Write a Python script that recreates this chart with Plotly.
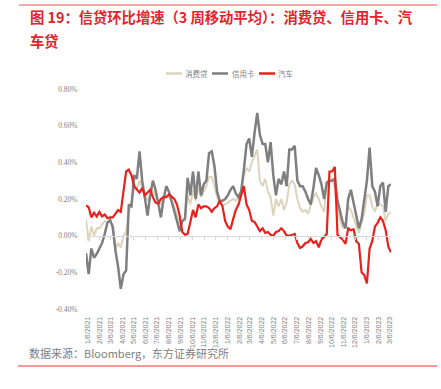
import pandas as pd
import plotly.graph_objects as go

# ---------------- data ----------------
start_date = "2021-01-01"
n_weeks = 115

consumer_loan = [  # 消费贷
    0.09, -0.03, 0.05, 0.0, 0.04, 0.04, 0.06, 0.08, 0.07, 0.09,
    0.03, -0.07, -0.04, -0.065, 0.0, 0.02, 0.13, 0.19, 0.25, 0.26,
    0.30, 0.26, 0.22, 0.19, 0.22, 0.25, 0.22, 0.19, 0.17, 0.20,
    0.22, 0.21, 0.19, 0.16, 0.11, 0.06, 0.08, 0.10, 0.22, 0.17,
    0.25, 0.19, 0.26, 0.21, 0.24, 0.27, 0.32, 0.32, 0.27, 0.21,
    0.18, 0.17, 0.17, 0.18, 0.19, 0.20, 0.19, 0.21, 0.25, 0.33,
    0.37, 0.35, 0.40, 0.44, 0.47, 0.30, 0.27, 0.31, 0.24, 0.21,
    0.11, 0.20, 0.16, 0.20, 0.14, 0.18, 0.28, 0.30, 0.28, 0.20,
    0.15, 0.13, 0.14, 0.12, 0.16, 0.21, 0.23, 0.20, 0.16, 0.13,
    0.29, 0.31, 0.31, 0.26, 0.13, 0.09, 0.04, 0.07, 0.16, 0.14,
    0.10, 0.06, 0.015, 0.07, 0.12, 0.22, 0.22, 0.16, 0.13, 0.18,
    0.17, 0.16, 0.08, 0.12, 0.125,
]
credit_card = [  # 信用卡
    -0.095, -0.21, -0.07, -0.12, -0.10, -0.07, -0.04, 0.01, 0.07, 0.085,
    0.05, -0.08, -0.17, -0.29, -0.21, -0.19, 0.17, 0.16, 0.33, 0.31,
    0.46, 0.30, 0.20, 0.11, 0.22, 0.30, 0.25, 0.17, 0.10, 0.20,
    0.27, 0.24, 0.19, 0.14, 0.08, 0.025, 0.08, 0.09, 0.315, 0.22,
    0.35, 0.20, 0.35, 0.22, 0.28, 0.30, 0.45, 0.46, 0.38, 0.24,
    0.19, 0.19, 0.20, 0.22, 0.25, 0.27, 0.23, 0.21, 0.24, 0.36,
    0.50, 0.53, 0.43, 0.56, 0.67, 0.55, 0.50, 0.50, 0.40, 0.51,
    0.33, 0.22, 0.31, 0.28, 0.35, 0.27, 0.47, 0.47, 0.49, 0.30,
    0.27, 0.27, 0.24, 0.20, 0.17, 0.26, 0.37, 0.33, 0.28, 0.20,
    0.29, 0.30, 0.30, 0.31, 0.19, 0.13, 0.07, 0.04, 0.20, 0.25,
    0.18, 0.11, 0.04, 0.09, 0.20, 0.30, 0.48, 0.27, 0.24, 0.16,
    0.27, 0.29, 0.13, 0.27, 0.28,
]
auto_loan = [  # 汽车
    0.165, 0.155, 0.10, 0.125, 0.105, 0.13, 0.105, 0.115, 0.095, 0.10,
    0.10, 0.12, 0.14, 0.13, 0.25, 0.35, 0.36, 0.33, 0.27, 0.25,
    0.235, 0.26, 0.22, 0.235, 0.25, 0.21, 0.18, 0.175, 0.20, 0.21,
    0.21, 0.225, 0.21, 0.20, 0.17, 0.11, 0.02, 0.005, 0.01, 0.08,
    0.14, 0.10, 0.17, 0.15, 0.16, 0.16, 0.15, 0.13, 0.15, 0.16,
    0.19, 0.16, 0.08, 0.05, 0.035, 0.09, 0.14, 0.17, 0.22, 0.27,
    0.17, 0.14, 0.08, 0.075, 0.05, 0.025, 0.04, 0.015, 0.02, 0.005,
    0.0, 0.02, 0.025, 0.04, 0.025, 0.0, 0.0, 0.005, 0.01, -0.04,
    -0.067, -0.058, -0.04, -0.036, -0.018, -0.04, -0.03, -0.064, -0.02, -0.007,
    0.01, 0.35, 0.35, 0.375, 0.005, -0.01, -0.022, -0.045, 0.04, 0.03,
    0.035, -0.03, -0.045, -0.20, -0.215, -0.26, -0.07, -0.03, 0.05, 0.07,
    0.10, 0.08, 0.03, -0.06, -0.09,
]
tick_labels = [
    "1/6/2021", "2/6/2021", "3/6/2021", "4/6/2021", "5/6/2021", "6/6/2021",
    "7/6/2021", "8/6/2021", "9/6/2021", "10/6/2021", "11/6/2021", "12/6/2021",
    "1/6/2022", "2/6/2022", "3/6/2022", "4/6/2022", "5/6/2022", "6/6/2022",
    "7/6/2022", "8/6/2022", "9/6/2022", "10/6/2022", "11/6/2022", "12/6/2022",
    "1/6/2023", "2/6/2023", "3/6/2023",
]
y_ticks = [-0.4, -0.2, 0.0, 0.2, 0.4, 0.6, 0.8]
y_tick_labels = ["-0.40%", "-0.20%", "0.00%", "0.20%", "0.40%", "0.60%", "0.80%"]
series_names = ["消费贷", "信用卡", "汽车"]

# ---------------- figure ----------------
dates = pd.date_range(start=start_date, periods=n_weeks, freq="7D")
tick_vals = pd.to_datetime(tick_labels, format="%m/%d/%Y")

W, H = 441, 389
L, R, T, B = 86, 50, 89, 80
PW, PH = W - L - R, H - T - B

def px(x):
    return (x - L) / PW

def py(y):
    return (H - B - y) / PH

colors = ["#ddd4bd", "#7f7f7f", "#e8211d"]
widths = [2.0, 2.5, 2.2]

fig = go.Figure()
for name, vals, c, w in zip(series_names, [consumer_loan, credit_card, auto_loan], colors, widths):
    fig.add_trace(go.Scatter(x=dates, y=vals, mode="lines", name=name,
                             line=dict(color=c, width=w), showlegend=False))

x_range = [dates[0], dates[-1]]

fig.update_layout(
    width=W, height=H,
    margin=dict(l=L, r=R, t=T, b=B, pad=0),
    paper_bgcolor="white", plot_bgcolor="white",
    showlegend=False,
    xaxis=dict(
        type="date", range=x_range, tickmode="array",
        tickvals=tick_vals, ticktext=tick_labels, tickangle=-90,
        showgrid=False, zeroline=False, showline=False,
        ticks="outside", ticklen=4, tickcolor="rgba(0,0,0,0)",
        tickfont=dict(family="Liberation Sans", size=7, color="#7f7f7f"),
    ),
    xaxis2=dict(
        type="date", range=x_range, overlaying="x", anchor="free", position=1/3,
        tickmode="array", tickvals=tick_vals, showticklabels=False,
        showgrid=False, zeroline=False, showline=True, linecolor="#d9d9d9", linewidth=1,
        ticks="outside", ticklen=3, tickcolor="#d9d9d9", tickwidth=1,
    ),
    yaxis=dict(
        range=[-0.4, 0.8], tickmode="array", tickvals=y_ticks, ticktext=y_tick_labels,
        showgrid=False, zeroline=False, showline=False,
        ticks="outside", ticklen=6, tickcolor="rgba(0,0,0,0)",
        tickfont=dict(family="Liberation Serif", size=7.5, color="#7f7f7f"),
    ),
)

# dummy trace for xaxis2 so it renders
fig.add_trace(go.Scatter(x=[dates[0]], y=[None], xaxis="x2", showlegend=False,
                         hoverinfo="skip", mode="lines"))

# manual legend
leg_y = 73.5
leg_items = [(166, 182, 183), (212, 228, 230), (259, 275, 276)]
for (x0, x1, tx), name, c in zip(leg_items, series_names, colors):
    fig.add_shape(type="line", xref="paper", yref="paper",
                  x0=px(x0), x1=px(x1), y0=py(leg_y), y1=py(leg_y),
                  line=dict(color=c, width=2.5))
    fig.add_annotation(xref="paper", yref="paper", x=px(tx), y=py(leg_y),
                       text=name, showarrow=False, xanchor="left", yanchor="middle",
                       font=dict(family="Noto Sans CJK SC", size=7.5, color="#7f7f7f"))

# title
title_font = dict(family="Noto Sans CJK SC", size=14.3, color="#e3242b")
fig.add_annotation(xref="paper", yref="paper", x=px(28), y=py(17),
                   text="<b>图 19：信贷环比增速（3 周移动平均）：消费贷、信用卡、汽</b>",
                   showarrow=False, xanchor="left", yanchor="middle", font=title_font)
fig.add_annotation(xref="paper", yref="paper", x=px(28), y=py(40),
                   text="<b>车贷</b>",
                   showarrow=False, xanchor="left", yanchor="middle", font=title_font)

# source
fig.add_annotation(xref="paper", yref="paper", x=px(27), y=py(353),
                   text="数据来源：Bloomberg，东方证券研究所",
                   showarrow=False, xanchor="left", yanchor="middle",
                   font=dict(family="Noto Sans CJK SC", size=11, color="#808080"))

# decorative rules
fig.add_shape(type="line", xref="paper", yref="paper", x0=px(19), x1=px(437),
              y0=py(5), y1=py(5), line=dict(color="#f08c8c", width=1.5))
fig.add_shape(type="line", xref="paper", yref="paper", x0=px(18), x1=px(437),
              y0=py(366), y1=py(366), line=dict(color="#e8322d", width=1))

fig.write_html(
    "out.html",
    config={"displayModeBar": False},
    post_script="document.body.style.margin='0';document.body.style.padding='0';"
                "document.documentElement.style.overflow='hidden';",
)
